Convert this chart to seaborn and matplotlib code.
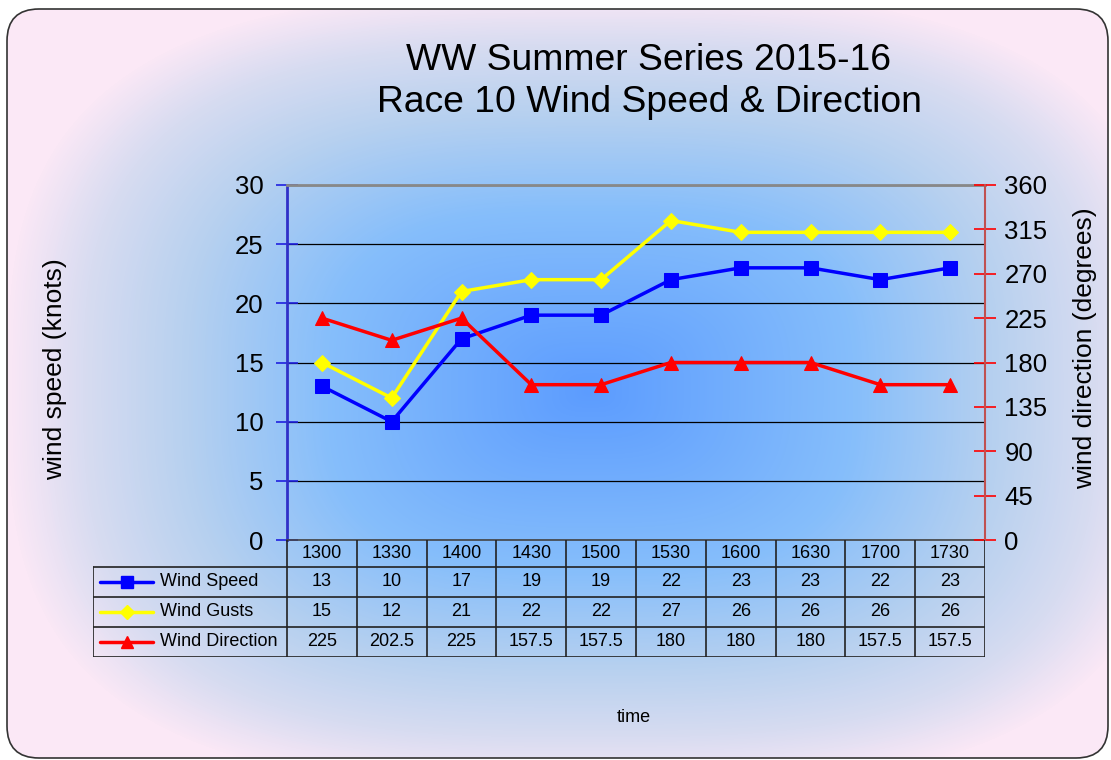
import numpy as np
import matplotlib
matplotlib.use("Agg")
import matplotlib.pyplot as plt
import seaborn as sns
from matplotlib.colors import LinearSegmentedColormap
from matplotlib.patches import FancyBboxPatch

# === Data ===
times = ["1300", "1330", "1400", "1430", "1500", "1530", "1600", "1630", "1700", "1730"]
wind_speed = [13, 10, 17, 19, 19, 22, 23, 23, 22, 23]
wind_gusts = [15, 12, 21, 22, 22, 27, 26, 26, 26, 26]
wind_direction = [225, 202.5, 225, 157.5, 157.5, 180, 180, 180, 157.5, 157.5]

series_names = ["Wind Speed", "Wind Gusts", "Wind Direction"]
series_colors = ["#0000ff", "#ffff00", "#ff0000"]
series_markers = ["s", "D", "^"]
series_msize = [10, 8, 10]

sns.set_style("white")
plt.rcParams["font.family"] = ["Liberation Sans", "DejaVu Sans"]
plt.rcParams["text.color"] = "black"
plt.rcParams["ytick.labelcolor"] = "black"

W, H = 1111, 760
fig = plt.figure(figsize=(W / 100, H / 100), dpi=100)

# === Background: path gradient inside rounded frame ===
bg = fig.add_axes([0, 0, 1, 1], zorder=-10)
bg.set_xlim(0, W)
bg.set_ylim(H, 0)
bg.axis("off")
yy, xx = np.mgrid[0:H, 0:W]
dx = np.abs(xx - 590) / 585
dy = np.abs(yy - 390) / 400
d = np.clip((dx**3 + dy**3) ** (1 / 3), 0, 1)
cmap = LinearSegmentedColormap.from_list(
    "bgcm",
    [(0, "#5c9cff"), (0.45, "#86befb"), (0.7, "#b8d1ef"), (0.87, "#d8dcf1"), (1, "#fbe8f6")],
)
frame = FancyBboxPatch((7, 9), 1101, 749, boxstyle="round,pad=0,rounding_size=32",
                       facecolor="none", edgecolor="#333333", lw=1.2, transform=bg.transData)
img = bg.imshow(d, cmap=cmap, extent=(0, W, H, 0), aspect="auto", interpolation="bilinear")
bg.add_patch(frame)
img.set_clip_path(frame)

# === Main axes ===
ax = fig.add_axes([287 / W, 1 - 540 / H, 698 / W, 355 / H])
ax.patch.set_alpha(0)
xs = np.arange(len(times))

sns.lineplot(x=xs, y=wind_speed, ax=ax, color=series_colors[0], marker=series_markers[0],
             markersize=series_msize[0], markeredgecolor=series_colors[0], lw=2.5, zorder=5)
sns.lineplot(x=xs, y=wind_gusts, ax=ax, color=series_colors[1], marker=series_markers[1],
             markersize=series_msize[1], markeredgecolor=series_colors[1], lw=2.5, zorder=4)

ax.set_xlim(-0.5, len(times) - 0.5)
ax.set_ylim(0, 30)
ax.set_yticks(range(0, 31, 5))
ax.set_xticks([])
ax.yaxis.grid(True, color="black", lw=0.9)
ax.set_axisbelow(True)
ax.tick_params(axis="y", direction="inout", length=16, width=1.2, color="#2020e0",
               labelsize=18.5, pad=9, labelcolor="black")
ax.spines["right"].set_visible(False)
ax.spines["top"].set_color("#888888")
ax.spines["top"].set_linewidth(2)
ax.spines["left"].set_color("#3030c8")
ax.spines["left"].set_linewidth(2)
ax.spines["bottom"].set_color("#444444")
ax.spines["bottom"].set_linewidth(1.2)

ax2 = ax.twinx()
sns.lineplot(x=xs, y=wind_direction, ax=ax2, color=series_colors[2], marker=series_markers[2],
             markersize=series_msize[2], markeredgecolor=series_colors[2], lw=2.5)
ax2.set_ylim(0, 360)
ax2.set_yticks(range(0, 361, 45))
ax2.tick_params(axis="y", direction="inout", length=16, width=1.2, color="#ff0000",
                labelsize=18.5, pad=6, labelcolor="black")
for s in ["top", "left", "bottom"]:
    ax2.spines[s].set_visible(False)
ax2.spines["right"].set_color("#c05050")
ax2.spines["right"].set_linewidth(1.5)
ax2.set_xlim(-0.5, len(times) - 0.5)

# === Data table ===
tab = fig.add_axes([93 / W, 1 - 657 / H, 892 / W, 117 / H])
tab.axis("off")
cw = 698 / len(times)
xl = -0.5 - 194 / cw
xr = len(times) - 0.5
tab.set_xlim(xl, xr)
tab.set_ylim(117, 0)
lc = "#222222"
for yv in [27, 57, 87, 117]:
    tab.plot([xl, xr], [yv, yv], color=lc, lw=1.2, solid_capstyle="butt")
for i in range(len(times) + 1):
    tab.plot([i - 0.5, i - 0.5], [0, 117], color=lc, lw=1.2)
tab.plot([xl, xl], [27, 117], color=lc, lw=1.2)

for i, t in enumerate(times):
    tab.text(i, 13.5, t, ha="center", va="center", fontsize=13)

rows = [wind_speed, wind_gusts, wind_direction]
for r, (vals, name, col, mk) in enumerate(zip(rows, series_names, series_colors, series_markers)):
    yc = 27 + 15 + 30 * r
    for i, v in enumerate(vals):
        tab.text(i, yc, f"{v:g}", ha="center", va="center", fontsize=13)
    x0 = xl + 7 / cw
    x1 = xl + 60 / cw
    tab.plot([x0, x1], [yc, yc], color=col, lw=2.5)
    tab.plot([(x0 + x1) / 2], [yc], marker=mk, color=col, markersize=series_msize[r] - 1)
    tab.text(xl + 67 / cw, yc, name, ha="left", va="center", fontsize=13)

# === Titles and labels ===
fig.text(649 / W, 1 - 60 / H, "WW Summer Series 2015-16", ha="center", va="center", fontsize=26.8)
fig.text(649 / W, 1 - 102 / H, "Race 10 Wind Speed & Direction", ha="center", va="center", fontsize=26.8)
fig.text(55 / W, 1 - 369 / H, "wind speed (knots)", rotation=90, ha="center", va="center", fontsize=19)
fig.text(1085 / W, 1 - 348 / H, "wind direction (degrees)", rotation=90, ha="center", va="center", fontsize=19)
fig.text(634 / W, 1 - 717 / H, "time", ha="center", va="center", fontsize=13)

fig.savefig("out.png", dpi=100)
